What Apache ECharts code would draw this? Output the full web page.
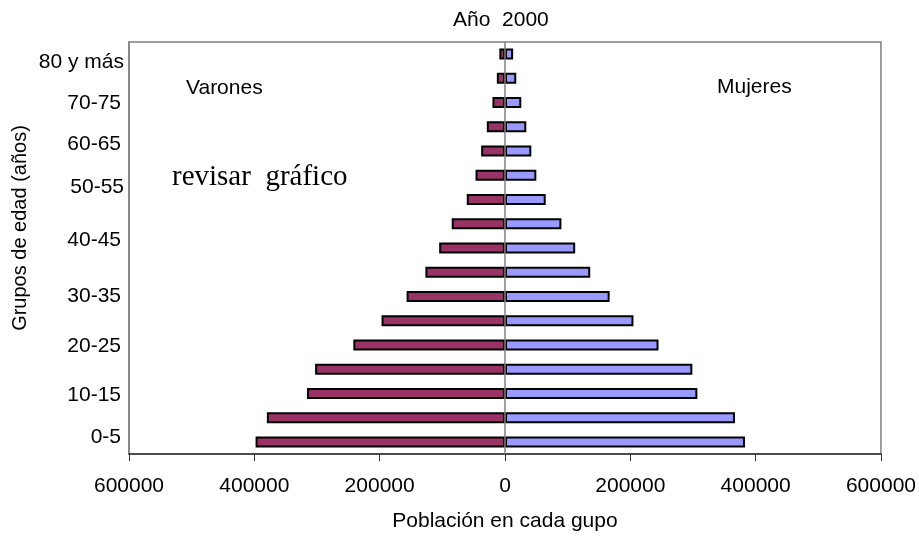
<!DOCTYPE html>
<html>
<head>
<meta charset="utf-8">
<script src="https://cdn.jsdelivr.net/npm/echarts@6/dist/echarts.min.js"></script>
<style>
  html, body { margin: 0; padding: 0; background: #fff; }
  #main { width: 919px; height: 539px; }
</style>
</head>
<body>
<div id="main"></div>
<script>
// Pirámide de población, año 2000

var grupos = ['0-5', '5-10', '10-15', '15-20', '20-25', '25-30', '30-35', '35-40', '40-45',
  '45-50', '50-55', '55-60', '60-65', '65-70', '70-75', '75-80', '80 y más'];
var varones = [398000, 380000, 316000, 303000, 242000, 197000, 157000, 127000, 105000,
  85000, 61000, 47000, 38000, 29000, 20000, 13000, 9000];
var mujeres = [383000, 367000, 307000, 299000, 245000, 205000, 167000, 136000, 112000,
  90000, 65000, 50000, 42000, 34000, 26000, 18000, 13000];
var ticksX = [-600000, -400000, -200000, 0, 200000, 400000, 600000];

// desplazamiento vertical de algunas etiquetas (como en el original)
var desplaza = { '0-5': -5, '10-15': 2, '20-25': 1, '30-35': 0, '40-45': -8,
  '50-55': -12, '60-65': -7, '70-75': 1, '80 y más': 8 };

var fuente = 'Liberation Sans, Arial, sans-serif';

var myChart = echarts.init(document.getElementById('main'));

var rich = {};
grupos.forEach(function (g, i) {
  var d = desplaza[g] || 0;
  var pr = (g === '80 y más' || g === '50-55') ? 0 : 3;
  rich['g' + i] = {
    fontSize: 21, fontFamily: fuente, color: '#000',
    padding: [d > 0 ? 2 * d : 0, pr, d < 0 ? -2 * d : 0, 0]
  };
});

var option = {
  backgroundColor: '#fff',
  animation: false,
  title: {
    text: 'Año  2000',
    left: 448,
    top: 5,
    textStyle: { fontSize: 21, fontWeight: 'normal', fontFamily: fuente, color: '#000' }
  },
  grid: {
    left: 129, right: 38, top: 42, bottom: 85,
    show: true, borderColor: '#808080', borderWidth: 1.5
  },
  xAxis: {
    type: 'value',
    min: ticksX[0],
    max: ticksX[ticksX.length - 1],
    interval: 200000,
    splitLine: { show: false },
    axisLine: { show: true, lineStyle: { color: '#333', width: 1.5 } },
    axisTick: { show: true, length: 7, lineStyle: { color: '#333' } },
    axisLabel: {
      margin: 22, fontSize: 21, fontFamily: fuente, color: '#000',
      formatter: function (v) { return String(Math.abs(v)); }
    },
    name: 'Población en cada gupo',
    nameLocation: 'middle',
    nameGap: 57,
    nameTextStyle: { fontSize: 21, fontFamily: fuente, color: '#000' }
  },
  yAxis: {
    type: 'category',
    data: grupos,
    axisLine: { show: true, onZero: false, lineStyle: { color: '#808080', width: 1.5 } },
    axisTick: { show: false },
    splitLine: { show: false },
    axisLabel: {
      interval: 1,
      margin: 5,
      formatter: function (v) { return '{g' + grupos.indexOf(v) + '|' + v + '}'; },
      rich: rich
    }
  },
  graphic: [
    {
      type: 'text', left: 186, top: 78,
      style: { text: 'Varones', fontSize: 21, fontFamily: fuente, fill: '#000' }
    },
    {
      type: 'text', left: 717, top: 77,
      style: { text: 'Mujeres', fontSize: 21, fontFamily: fuente, fill: '#000' }
    },
    {
      type: 'text', left: 172, top: 163,
      style: { text: 'revisar  gráfico', fontSize: 29, fontFamily: 'Liberation Serif, Times New Roman, serif', fill: '#000' }
    },
    {
      type: 'text', x: 20, y: 228, rotation: Math.PI / 2,
      style: {
        text: 'Grupos de edad (años)', fontSize: 20, fontFamily: fuente, fill: '#000',
        align: 'center', verticalAlign: 'middle'
      }
    }
  ],
  series: [
    {
      name: 'Varones',
      type: 'bar',
      barWidth: 11,
      barGap: '-100%',
      data: varones.map(function (v) { return -v; }),
      itemStyle: { color: '#993366', borderColor: '#000', borderWidth: 2 },
      markLine: {
        silent: true,
        symbol: 'none',
        label: { show: false },
        lineStyle: { color: '#808080', width: 1.5, type: 'solid' },
        data: [{ xAxis: 0 }]
      }
    },
    {
      name: 'Mujeres',
      type: 'bar',
      barWidth: 11,
      barGap: '-100%',
      data: mujeres,
      itemStyle: { color: '#9999FF', borderColor: '#000', borderWidth: 2 }
    }
  ]
};

option && myChart.setOption(option);
</script>
</body>
</html>
